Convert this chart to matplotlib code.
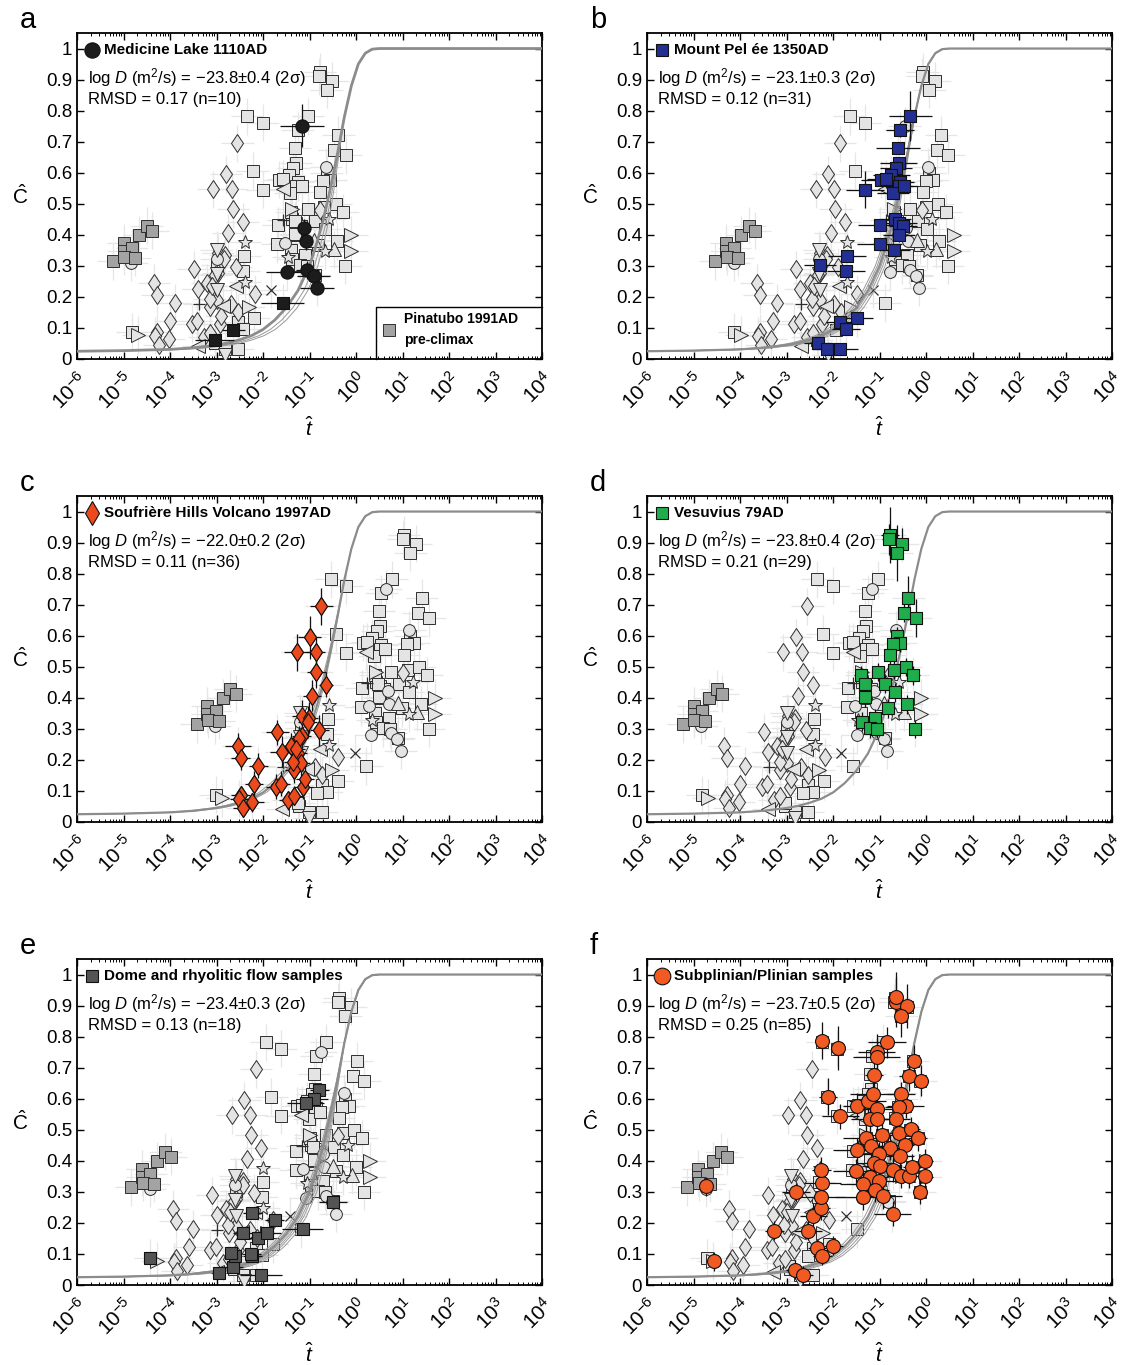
import numpy as np
import matplotlib
matplotlib.use('Agg')
import matplotlib.pyplot as plt
from matplotlib.ticker import LogLocator, FixedLocator, FixedFormatter, NullFormatter

plt.rcParams['font.family'] = ['Liberation Sans', 'DejaVu Sans']
plt.rcParams['mathtext.fontset'] = 'custom'
plt.rcParams['mathtext.rm'] = 'Liberation Sans'
plt.rcParams['mathtext.it'] = 'Liberation Sans:italic'
plt.rcParams['mathtext.bf'] = 'Liberation Sans:bold'

# ---------------- data (log10 of t-hat, C-hat) ----------------
REF_LOGD = -23.8   # frame of the background data (panel a)
PANEL_LOGD = {'a': -23.8, 'b': -23.1, 'c': -22.0, 'd': -23.8, 'e': -23.4, 'f': -23.7}
PANEL_TEXT = {
    'a': ('Medicine Lake 1110AD', '\u221223.8\u00b10.4', 'RMSD = 0.17 (n=10)'),
    'b': ('Mount Pel \u00e9e 1350AD', '\u221223.1\u00b10.3', 'RMSD = 0.12 (n=31)'),
    'c': ('Soufri\u00e8re Hills Volcano 1997AD', '\u221222.0\u00b10.2', 'RMSD = 0.11 (n=36)'),
    'd': ('Vesuvius 79AD', '\u221223.8\u00b10.4', 'RMSD = 0.21 (n=29)'),
    'e': ('Dome and rhyolitic flow samples', '\u221223.4\u00b10.3', 'RMSD = 0.13 (n=18)'),
    'f': ('Subplinian/Plinian samples', '\u221223.7\u00b10.5', 'RMSD = 0.25 (n=85)'),
}

# model curve
curve_logt = [-6, -5, -4, -3.5, -3, -2.75, -2.5, -2.25, -2, -1.75, -1.5, -1.25, -1, -0.85,
              -0.7, -0.55, -0.4, -0.25, -0.1, 0.05, 0.2, 0.35, 0.5, 4]
curve_c = [0.025, 0.027, 0.031, 0.036, 0.045, 0.052, 0.062, 0.075, 0.095, 0.125, 0.165, 0.22,
           0.30, 0.37, 0.45, 0.55, 0.66, 0.78, 0.88, 0.95, 0.985, 0.998, 1.0, 1.0]
# thin companion curves: offsets (decades) of their lower part, per panel
curve_offsets = {'a': [0.18, 0.3], 'b': [-0.15, -0.08, 0.06, 0.12, 0.2], 'c': [-0.1, 0.08],
                 'd': [], 'e': [-0.12, -0.06, 0.06, 0.12, 0.18, 0.26], 'f': [-0.1, 0.08, 0.16, 0.24]}

# Pinatubo 1991AD pre-climax (frame a)
pina_x = [-5.23, -5.00, -5.00, -4.82, -4.98, -4.75, -4.67, -4.50, -4.38]
pina_y = [0.315, 0.374, 0.348, 0.358, 0.329, 0.326, 0.399, 0.429, 0.413]

# Medicine Lake (frame a)
ml_circ_x = [-1.16, -1.12, -1.08, -1.48, -1.05, -0.91, -0.84]
ml_circ_y = [0.752, 0.421, 0.381, 0.280, 0.287, 0.266, 0.230]
ml_circ_xerr = [0.48, 0.10, 0.10, 0.45, 0.25, 0.35, 0.37]
ml_circ_yerr = [0.07, 0.03, 0.03, 0.0, 0.03, 0.0, 0.0]
ml_sq_x = [-3.04, -2.64, -1.58]
ml_sq_y = [0.061, 0.092, 0.180]
ml_sq_xerr = [0.42, 0.25, 0.46]

# Mount Pelee (frame b)
pel_x = [-0.335, -0.553, -0.607, -0.59, -0.65, -0.75, -0.96, -0.553, -0.59, -0.71, -1.31, -0.67,
         -0.59, -0.49, -0.98, -0.58, -1.00, -0.69, -1.70, -1.72, -2.28, -1.49, -1.84, -1.72,
         -2.33, -2.12, -1.84, -0.86, -0.47]
pel_y = [0.782, 0.736, 0.680, 0.631, 0.615, 0.593, 0.577, 0.569, 0.556, 0.536, 0.545, 0.450,
         0.437, 0.429, 0.431, 0.398, 0.370, 0.351, 0.331, 0.283, 0.302, 0.132, 0.119, 0.097,
         0.051, 0.032, 0.032, 0.580, 0.556]
pel_xerr = [0.47, 0.30, 0.47, 0.40, 0.35, 0.40, 0.43, 0.30, 0.30, 0.35, 0.40, 0.35, 0.40, 0.30,
            0.48, 0.35, 0.48, 0.35, 0.41, 0.40, 0.35, 0.35, 0.30, 0.30, 0.30, 0.30, 0.37, 0.40, 0.30]
pel_yerr = [0.08, 0.02, 0.02, 0.02, 0.02, 0.02, 0.02, 0.02, 0.02, 0.02, 0.06, 0.02, 0.02, 0.02,
            0.02, 0.02, 0.02, 0.02, 0.02, 0.02, 0.02, 0.02, 0.02, 0.02, 0.02, 0.02, 0.02, 0.03, 0.02]

# Soufriere Hills (frame c)
shv_x = [-0.75, -1.00, -1.27, -0.87, -0.85, -0.64, -0.95, -1.17, -1.02, -0.79, -1.69, -1.17,
         -1.23, -1.40, -1.60, -1.25, -1.19, -1.33, -2.54, -2.48, -2.10, -2.19, -1.73, -1.62,
         -1.13, -2.48, -2.52, -2.44, -2.23, -1.46, -1.35, -1.04, -1.30, -1.10, -1.33]
shv_y = [0.695, 0.595, 0.547, 0.547, 0.483, 0.442, 0.406, 0.343, 0.336, 0.296, 0.289, 0.278,
         0.269, 0.246, 0.226, 0.221, 0.189, 0.167, 0.246, 0.207, 0.181, 0.124, 0.113, 0.124,
         0.113, 0.086, 0.075, 0.045, 0.063, 0.070, 0.194, 0.323, 0.235, 0.140, 0.085]
shv_xerr = [0.25, 0.25, 0.28, 0.2, 0.2, 0.15, 0.2, 0.2, 0.2, 0.2, 0.25, 0.2, 0.2, 0.2, 0.25, 0.2,
            0.2, 0.2, 0.28, 0.2, 0.2, 0.2, 0.2, 0.2, 0.2, 0.2, 0.2, 0.2, 0.25, 0.2, 0.2, 0.2, 0.2,
            0.2, 0.2]
shv_yerr = [0.06, 0.07, 0.06, 0.05, 0.05, 0.04, 0.05, 0.05, 0.05, 0.05, 0.04, 0.04, 0.04, 0.04,
            0.05, 0.04, 0.04, 0.04, 0.04, 0.04, 0.04, 0.04, 0.04, 0.04, 0.04, 0.03, 0.03, 0.03,
            0.03, 0.03, 0.04, 0.05, 0.04, 0.04, 0.03]

# Vesuvius (frame d)
ves_x = [-0.77, -0.79, -0.51, -0.63, -0.38, -0.47, -0.22, -0.63, -0.55, -0.71, -0.77, -1.39,
         -1.04, -0.69, -0.44, -0.28, -1.32, -0.88, -0.67, -1.31, -0.82, -0.41, -1.10, -1.37,
         -1.21, -0.23, -1.06]
ves_y = [0.925, 0.911, 0.897, 0.867, 0.722, 0.673, 0.657, 0.598, 0.576, 0.573, 0.539, 0.474,
         0.483, 0.490, 0.499, 0.472, 0.445, 0.444, 0.418, 0.401, 0.366, 0.379, 0.334, 0.323,
         0.302, 0.300, 0.300]
ves_xerr = [0.2, 0.15, 0.12, 0.1, 0.12, 0.1, 0.12, 0.1, 0.1, 0.1, 0.1, 0.15, 0.1, 0.1, 0.12,
            0.15, 0.1, 0.1, 0.1, 0.1, 0.12, 0.1, 0.1, 0.1, 0.15, 0.1, 0.1]
ves_yerr = [0.09, 0.05, 0.05, 0.09, 0.07, 0.03, 0.06, 0.03, 0.03, 0.03, 0.03, 0.03, 0.03, 0.03,
            0.03, 0.03, 0.03, 0.03, 0.03, 0.03, 0.03, 0.03, 0.03, 0.03, 0.03, 0.03, 0.03]

# Dome and rhyolitic flow samples (frame e)
dome_x = [-4.42, -2.95, -2.64, -2.60, -2.69, -2.23, -2.04, -2.44, -2.10, -1.92, -1.75, -2.23,
          -1.15, -0.50, -0.79, -0.90, -1.08, -2.25]
dome_y = [0.086, 0.038, 0.059, 0.092, 0.102, 0.092, 0.032, 0.169, 0.151, 0.169, 0.208, 0.232,
          0.180, 0.266, 0.629, 0.599, 0.586, 0.100]
dome_xerr = [0.0, 0.15, 0.2, 0.15, 0.1, 0.2, 0.45, 0.2, 0.25, 0.3, 0.2, 0.2, 0.45, 0.3, 0.2,
             0.3, 0.4, 0.2]

# Subplinian/Plinian samples (frame f)
plin_x = [-4.74, -4.56, -3.26, -2.79, -2.82, -2.64, -2.54, -2.42, -2.26, -2.25, -2.23, -2.25,
          -2.34, -2.23, -1.99, -2.23, -1.90, -2.11, -1.84, -1.49, -1.25, -1.14, -1.06, -1.21,
          -1.06, -1.06, -1.06, -0.84, -1.12, -0.65, -0.64, -0.41, -0.53, -0.26, -0.37, -0.11,
          -0.53, -0.44, -0.58, -0.65, -1.29, -1.49, -1.18, -0.94, -0.77, -0.58, -0.46, -0.33,
          -0.18, -0.55, -1.02, -1.11, -0.98, -1.50, -1.21, -1.35, -1.02, -0.71, -0.53, -0.36,
          -0.30, -0.02, -0.02, -0.12, -1.35, -1.10, -0.92, -0.72]
plin_y = [0.318, 0.076, 0.175, 0.300, 0.049, 0.032, 0.175, 0.223, 0.248, 0.284, 0.329, 0.372,
          0.119, 0.094, 0.127, 0.787, 0.763, 0.606, 0.543, 0.577, 0.593, 0.615, 0.566, 0.534,
          0.534, 0.750, 0.734, 0.782, 0.677, 0.912, 0.928, 0.898, 0.868, 0.723, 0.674, 0.658,
          0.615, 0.577, 0.572, 0.536, 0.475, 0.434, 0.448, 0.482, 0.442, 0.491, 0.450, 0.502,
          0.472, 0.417, 0.421, 0.394, 0.383, 0.367, 0.348, 0.324, 0.334, 0.372, 0.351, 0.351,
          0.381, 0.399, 0.351, 0.300, 0.283, 0.307, 0.286, 0.230]
plin_xerr = [0.0, 0.0, 0.2, 0.3, 0.2, 0.2, 0.3, 0.3, 0.2, 0.5, 0.4, 0.2, 0.2, 0.2, 0.2, 0.1,
             0.1, 0.2, 0.4, 0.3, 0.4, 0.5, 0.5, 0.4, 0.3, 0.4, 0.5, 0.4, 0.2, 0.1, 0.1, 0.1,
             0.1, 0.1, 0.2, 0.1, 0.3, 0.4, 0.3, 0.3, 0.5, 0.5, 0.3, 0.3, 0.3, 0.2, 0.2, 0.2,
             0.2, 0.3, 0.5, 0.4, 0.4, 0.5, 0.4, 0.5, 0.4, 0.3, 0.3, 0.2, 0.2, 0.1, 0.1, 0.1,
             0.6, 0.3, 0.4, 0.4]
plin_yerr = [0.03, 0.03, 0.03, 0.03, 0.03, 0.03, 0.03, 0.04, 0.04, 0.04, 0.04, 0.04, 0.03, 0.03,
             0.03, 0.06, 0.07, 0.06, 0.04, 0.04, 0.04, 0.04, 0.04, 0.04, 0.04, 0.06, 0.06, 0.05,
             0.04, 0.08, 0.08, 0.07, 0.07, 0.05, 0.05, 0.05, 0.04, 0.04, 0.04, 0.04, 0.04, 0.04,
             0.04, 0.04, 0.04, 0.04, 0.04, 0.04, 0.04, 0.04, 0.04, 0.04, 0.04, 0.04, 0.04, 0.04,
             0.04, 0.04, 0.04, 0.04, 0.04, 0.04, 0.04, 0.04, 0.04, 0.04, 0.04, 0.04]

# remaining background data (frame a)
oth_sq_x = [-4.82, -2.34, -2.01, -2.22, -0.89]
oth_sq_y = [0.088, 0.782, 0.761, 0.606, 0.270]
oth_circ_x = [-4.83, -3.00, -0.65, -1.53]
oth_circ_y = [0.310, 0.323, 0.620, 0.375]
oth_dia_x = [-2.18, -2.68, -2.53, -0.78]
oth_dia_y = [0.210, 0.178, 0.150, 0.480]
tri_down_x = [-3.00, -3.00, -2.98, -2.81]
tri_down_y = [0.352, 0.275, 0.222, 0.012]
tri_left_x = [-1.58, -2.57, -2.86, -3.39]
tri_left_y = [0.549, 0.236, 0.172, 0.043]
tri_right_x = [-2.31, -1.38, -0.10, -0.10, -4.68]
tri_right_y = [0.168, 0.482, 0.399, 0.349, 0.077]
tri_up_x = [-0.90, -0.48]
tri_up_y = [0.383, 0.353]
star_x = [-2.39, -2.39, -0.57, -0.67, -1.46]
star_y = [0.376, 0.248, 0.451, 0.349, 0.328]
cross_x = [-1.83]
cross_y = [0.223]
plus_x = [-3.38, -1.56]
plus_y = [0.176, 0.448]

BG_XERR_DEC = 0.35
BG_YERR = 0.06

# ---------------- styling ----------------
LIGHT = '#e4e4e4'
EDGE = '#2e2e2e'
PINA_FILL = '#a3a3a3'
CURVE_COL = '#8c8c8c'

HIGHLIGHT = {
    'a': [dict(x=ml_circ_x, y=ml_circ_y, xe=ml_circ_xerr, ye=ml_circ_yerr, m='o', ms=9.5, fc='#1c1c1c'),
          dict(x=ml_sq_x, y=ml_sq_y, xe=ml_sq_xerr, ye=None, m='s', ms=8.5, fc='#1c1c1c')],
    'b': [dict(x=pel_x, y=pel_y, xe=pel_xerr, ye=pel_yerr, m='s', ms=8.5, fc='#232f92')],
    'c': [dict(x=shv_x, y=shv_y, xe=shv_xerr, ye=shv_yerr, m='d', ms=9.5, fc='#ec4a1c')],
    'd': [dict(x=ves_x, y=ves_y, xe=ves_xerr, ye=ves_yerr, m='s', ms=8.5, fc='#1fae4b')],
    'e': [dict(x=dome_x, y=dome_y, xe=dome_xerr, ye=None, m='s', ms=8.5, fc='#545454')],
    'f': [dict(x=plin_x, y=plin_y, xe=plin_xerr, ye=plin_yerr, m='o', ms=10, fc='#f15a22')],
}
LEG_MARK = {'a': ('o', 11, '#1c1c1c'), 'b': ('s', 8.5, '#232f92'), 'c': ('d', 12, '#ec4a1c'),
            'd': ('s', 9, '#1fae4b'), 'e': ('s', 8, '#545454'), 'f': ('o', 12, '#f15a22')}


def background_groups():
    # every group expressed in the reference frame (log D = REF_LOGD)
    g = []
    g.append(('s', 8, LIGHT, list(np.array(pel_x) + (REF_LOGD - PANEL_LOGD['b'])), pel_y))
    g.append(('s', 8, LIGHT, list(np.array(ves_x) + (REF_LOGD - PANEL_LOGD['d'])), ves_y))
    g.append(('s', 8, LIGHT, ml_sq_x, ml_sq_y))
    g.append(('s', 8, LIGHT, oth_sq_x, oth_sq_y))
    g.append(('d', 9.5, LIGHT, list(np.array(shv_x) + (REF_LOGD - PANEL_LOGD['c'])), shv_y))
    g.append(('d', 9.5, LIGHT, oth_dia_x, oth_dia_y))
    g.append(('o', 8.5, LIGHT, ml_circ_x, ml_circ_y))
    g.append(('o', 8.5, LIGHT, oth_circ_x, oth_circ_y))
    g.append(('v', 9.5, LIGHT, tri_down_x, tri_down_y))
    g.append(('<', 9.5, LIGHT, tri_left_x, tri_left_y))
    g.append(('>', 9.5, LIGHT, tri_right_x, tri_right_y))
    g.append(('^', 9.5, LIGHT, tri_up_x, tri_up_y))
    g.append(('*', 10, LIGHT, star_x, star_y))
    g.append(('x', 7, LIGHT, cross_x, cross_y))
    g.append(('+', 9, LIGHT, plus_x, plus_y))
    g.append(('s', 8, PINA_FILL, pina_x, pina_y))
    return g


def logerr(lx, e):
    lx = np.asarray(lx, float)
    e = np.asarray(e, float)
    t = 10 ** lx
    return np.vstack([t - 10 ** (lx - e), 10 ** (lx + e) - t])


fig = plt.figure(figsize=(11.26, 13.65), dpi=100)
W, H = 1126.0, 1365.0
cols = {'a': 77, 'b': 647, 'c': 77, 'd': 647, 'e': 77, 'f': 647}
rows = {'a': 33, 'b': 33, 'c': 496, 'd': 496, 'e': 959, 'f': 959}
AW, AH = 465, 326

for key in 'abcdef':
    ax = fig.add_axes([cols[key] / W, 1 - (rows[key] + AH) / H, AW / W, AH / H])
    shift = PANEL_LOGD[key] - REF_LOGD
    ax.set_xscale('log')
    ax.set_xlim(1e-6, 1e4)
    ax.set_ylim(0, 1.05)

    # background points
    for (m, ms, fc, gx, gy) in background_groups():
        lx = np.array(gx) + shift
        ax.errorbar(10 ** lx, gy, xerr=logerr(lx, np.full(len(lx), BG_XERR_DEC)),
                    yerr=BG_YERR, fmt='none', ecolor='#e6e6e6', elinewidth=0.9, zorder=1)
    for (m, ms, fc, gx, gy) in background_groups():
        lx = np.array(gx) + shift
        if m in ('x', '+'):
            ax.plot(10 ** lx, gy, ls='none', marker=m, ms=ms, color=EDGE, mew=0.9, zorder=3)
        else:
            ax.plot(10 ** lx, gy, ls='none', marker=m, ms=ms, mfc=fc, mec=EDGE, mew=0.7, zorder=3)

    # model curves (thin companions differ mainly in their lower part)
    ct = np.array(curve_logt)
    cc = np.array(curve_c)
    for off in curve_offsets[key]:
        ax.plot(10 ** (ct + off * np.clip(1 - cc / 0.75, 0, 1)), cc, color='#9a9a9a', lw=0.7, zorder=4)
    ax.plot(10 ** ct, cc, color=CURVE_COL, lw=2.0 if key == 'a' else 1.6, zorder=4)

    # highlighted data set
    for h in HIGHLIGHT[key]:
        lx = np.array(h['x'])
        yerr = h['ye']
        ax.errorbar(10 ** lx, h['y'], xerr=logerr(lx, h['xe']), yerr=yerr, fmt='none',
                    ecolor='#111111', elinewidth=0.9, zorder=5)
        ax.plot(10 ** lx, h['y'], ls='none', marker=h['m'], ms=h['ms'], mfc=h['fc'],
                mec='#111111', mew=0.8, zorder=6)

    # annotation text
    title, dval, rmsd = PANEL_TEXT[key]
    m, ms, fc = LEG_MARK[key]
    ax.plot([0.032], [0.948], transform=ax.transAxes, ls='none', marker=m, ms=ms, mfc=fc,
            mec='#111111', mew=0.8, clip_on=False, zorder=7)
    ax.text(0.058, 0.948, title, transform=ax.transAxes, fontsize=11, fontweight='bold',
            va='center', ha='left', zorder=7)
    ax.text(0.024, 0.862, r'log $\mathit{D}$ (m$^{2}$/s) = ' + dval + ' (2\u03c3)',
            transform=ax.transAxes, fontsize=12, va='center', ha='left', zorder=7)
    ax.text(0.024, 0.795, rmsd, transform=ax.transAxes, fontsize=12, va='center', ha='left', zorder=7)

    if key == 'a':
        ax.plot([0.643, 0.643, 1.0], [0.0, 0.16, 0.16], transform=ax.transAxes, color='k',
                lw=1.0, zorder=7, clip_on=False)
        ax.plot([0.672], [0.088], transform=ax.transAxes, ls='none', marker='s', ms=8,
                mfc=PINA_FILL, mec=EDGE, mew=0.7, zorder=7)
        ax.text(0.703, 0.122, 'Pinatubo 1991AD', transform=ax.transAxes, fontsize=10,
                fontweight='bold', va='center', ha='left', zorder=7)
        ax.text(0.703, 0.058, 'pre-climax', transform=ax.transAxes, fontsize=10,
                fontweight='bold', va='center', ha='left', zorder=7)

    # axes formatting
    ax.xaxis.set_major_locator(LogLocator(base=10, numticks=20))
    ax.xaxis.set_minor_locator(LogLocator(base=10, subs=np.arange(2, 10), numticks=200))
    ax.xaxis.set_minor_formatter(NullFormatter())
    yt = [0, 0.1, 0.2, 0.3, 0.4, 0.5, 0.6, 0.7, 0.8, 0.9, 1.0]
    ax.yaxis.set_major_locator(FixedLocator(yt))
    ax.yaxis.set_major_formatter(FixedFormatter(['0', '0.1', '0.2', '0.3', '0.4', '0.5', '0.6',
                                                 '0.7', '0.8', '0.9', '1']))
    ax.tick_params(which='both', direction='in', top=True, right=True)
    ax.tick_params(which='major', length=5, width=1.0)
    ax.tick_params(axis='y', which='major', labelsize=13.5)
    ax.tick_params(axis='x', which='major', labelsize=15, pad=7)
    ax.tick_params(which='minor', length=2.5, width=0.7)
    for lab in ax.get_xticklabels():
        lab.set_rotation(45)
        lab.set_ha('right')
        lab.set_va('top')
        lab.set_rotation_mode('anchor')
    for s in ax.spines.values():
        s.set_linewidth(1.3)
    ax.set_ylabel(r'$\hat{\mathrm{C}}$', fontsize=15, rotation=0, labelpad=0, va='center')
    ax.yaxis.set_label_coords(-0.122, 0.5)
    ax.set_xlabel(r'$\hat{\mathit{t}}$', fontsize=15, va='center')
    ax.xaxis.set_label_coords(0.5, -0.212)

    # panel letter
    fig.text((cols[key] - 57) / W, 1 - (rows[key] - 13) / H, key, fontsize=21, ha='left', va='center')

fig.savefig('out.png', dpi=100)
